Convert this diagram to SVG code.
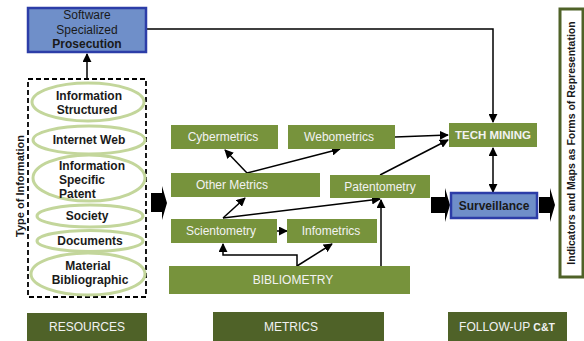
<svg xmlns="http://www.w3.org/2000/svg" width="584" height="341" viewBox="0 0 584 341">
<defs>
<style>
.g{fill:#77933c;}
.dg{fill:#4f6228;}
.gt{font-family:"Liberation Sans",Arial,sans-serif;font-size:12px;fill:#f2f2f2;text-anchor:middle;}
.et{font-family:"Liberation Sans",Arial,sans-serif;font-size:12px;font-weight:bold;fill:#1a1a1a;text-anchor:middle;}
.el{fill:#ffffff;stroke:#c3d69b;stroke-width:3;}
.blue{fill:#6f8fc9;stroke:#2c3da8;stroke-width:2.5;}
.c{fill:none;stroke:#000;stroke-width:1.5;}
.blk{fill:#000;}
</style>
<marker id="ah" viewBox="0 0 10 10" refX="9" refY="5" markerWidth="6" markerHeight="6" orient="auto-start-reverse" markerUnits="userSpaceOnUse">
<path d="M0,0 L10,5 L0,10 z" fill="#000"/>
</marker>
<marker id="ahb" viewBox="0 0 10 10" refX="9" refY="5" markerWidth="9" markerHeight="9" orient="auto-start-reverse" markerUnits="userSpaceOnUse">
<path d="M0,0 L10,5 L0,10 z" fill="#000"/>
</marker>
</defs>
<rect width="584" height="341" fill="#ffffff"/>

<g id="connectors">
<path class="c" d="M146,29 H493 V122" marker-end="url(#ahb)"/>
<path class="c" d="M87,79 V54" marker-end="url(#ahb)"/>
<path class="c" d="M493,148 V192" marker-start="url(#ahb)" marker-end="url(#ahb)"/>
<path class="c" d="M395,137 L448,135" marker-end="url(#ahb)"/>
<path class="c" d="M380,175 L448,140" marker-end="url(#ahb)"/>
<path class="c" d="M247,173 L225,150" marker-end="url(#ahb)"/>
<path class="c" d="M247,173 L340,149" marker-end="url(#ahb)"/>
<path class="c" d="M223,218 L245,198" marker-end="url(#ahb)"/>
<path class="c" d="M223,218 L380,199" marker-end="url(#ahb)"/>
<path class="c" d="M277,231 L287,231" marker-end="url(#ahb)"/>
<path class="c" d="M297,266 V255 H223 V244" marker-end="url(#ahb)"/>
<path class="c" d="M297,266 L332,244" marker-end="url(#ahb)"/>
<path class="c" d="M381,266 V200" marker-end="url(#ahb)"/>
<path class="blk" d="M151,193 H162 V186 L167,203 L162,220 V212 H151 z"/>
<path class="blk" d="M431,197 H445 V188 L450,205 L445,222 V213 H431 z"/>
<path class="blk" d="M539,197 H550 V188 L555,205 L550,222 V213 H539 z"/>
</g>

<g id="software">
<rect class="blue" x="28" y="8" width="118" height="44"/>
<text class="et" x="87" y="19" style="font-weight:normal">Software</text>
<text class="et" x="87" y="34" style="font-weight:normal">Specialized</text>
<text class="et" x="87" y="48">Prosecution</text>
</g>

<g id="resources-box">
<rect x="28" y="79" width="118" height="218" fill="none" stroke="#000" stroke-width="1.8" stroke-dasharray="5,3"/>
<text x="24" y="186" transform="rotate(-90 24 186)" font-family="Liberation Sans,Arial,sans-serif" font-size="11" font-weight="bold" text-anchor="middle" fill="#1a1a1a">Type of Information</text>
</g>

<g id="info-structured">
<ellipse class="el" cx="88" cy="102" rx="56" ry="19"/>
<text class="et" x="89" y="100">Information</text>
<text class="et" x="87" y="114">Structured</text>
</g>
<g id="internet-web">
<ellipse class="el" cx="89" cy="140" rx="56" ry="14"/>
<text class="et" x="89" y="144">Internet Web</text>
</g>
<g id="info-patent">
<ellipse class="el" cx="89" cy="178" rx="56" ry="23"/>
<text class="et" x="59" y="170" style="text-anchor:start">Information</text>
<text class="et" x="59" y="184" style="text-anchor:start">Specific</text>
<text class="et" x="59" y="198" style="text-anchor:start">Patent</text>
</g>
<g id="society">
<ellipse class="el" cx="90" cy="216" rx="53" ry="11"/>
<text class="et" x="87" y="220">Society</text>
</g>
<g id="documents">
<ellipse class="el" cx="90" cy="241" rx="53" ry="10.5"/>
<text class="et" x="90" y="245">Documents</text>
</g>
<g id="material">
<ellipse class="el" cx="88" cy="274" rx="57" ry="21"/>
<text class="et" x="88" y="270">Material</text>
<text class="et" x="90" y="284">Bibliographic</text>
</g>

<g id="cybermetrics">
<rect class="g" x="171" y="125" width="107" height="24"/>
<text class="gt" x="223" y="141">Cybermetrics</text>
</g>
<g id="webometrics">
<rect class="g" x="288" y="125" width="107" height="24"/>
<text class="gt" x="339" y="141">Webometrics</text>
</g>
<g id="other-metrics">
<rect class="g" x="171" y="173" width="149" height="24"/>
<text class="gt" x="232" y="189">Other Metrics</text>
</g>
<g id="patentometry">
<rect class="g" x="330" y="175" width="100" height="23"/>
<text class="gt" x="380" y="191">Patentometry</text>
</g>
<g id="scientometry">
<rect class="g" x="171" y="219" width="106" height="24"/>
<text class="gt" x="221" y="235">Scientometry</text>
</g>
<g id="infometrics">
<rect class="g" x="287" y="219" width="90" height="24"/>
<text class="gt" x="331" y="235">Infometrics</text>
</g>
<g id="bibliometry">
<rect class="g" x="169" y="266" width="241" height="28"/>
<text class="gt" x="293" y="284">BIBLIOMETRY</text>
</g>

<g id="tech-mining">
<rect class="g" x="449" y="123" width="88" height="24"/>
<text class="gt" x="493" y="139" style="font-weight:bold;font-size:11.5px">TECH MINING</text>
</g>
<g id="surveillance">
<rect class="blue" x="451" y="193" width="86" height="25"/>
<text class="et" x="494" y="210">Surveillance</text>
</g>

<g id="indicators">
<rect x="560" y="9" width="23" height="268" fill="#ffffff" stroke="#4f6228" stroke-width="3"/>
<text x="575" y="143" transform="rotate(-90 575 143)" font-family="Liberation Sans,Arial,sans-serif" font-size="10.5" font-weight="bold" text-anchor="middle" fill="#1a1a1a">Indicators and Maps as Forms of Representation</text>
</g>

<g id="resources-label">
<rect class="dg" x="27" y="313" width="120" height="28"/>
<text class="gt" x="87" y="331">RESOURCES</text>
</g>
<g id="metrics-label">
<rect class="dg" x="213" y="312" width="171" height="29"/>
<text class="gt" x="291" y="331">METRICS</text>
</g>
<g id="followup-label">
<rect class="dg" x="448" y="312" width="119" height="29"/>
<text class="gt" x="507" y="331">FOLLOW-UP <tspan style="font-weight:bold;font-size:10.5px">C&amp;T</tspan></text>
</g>
</svg>
